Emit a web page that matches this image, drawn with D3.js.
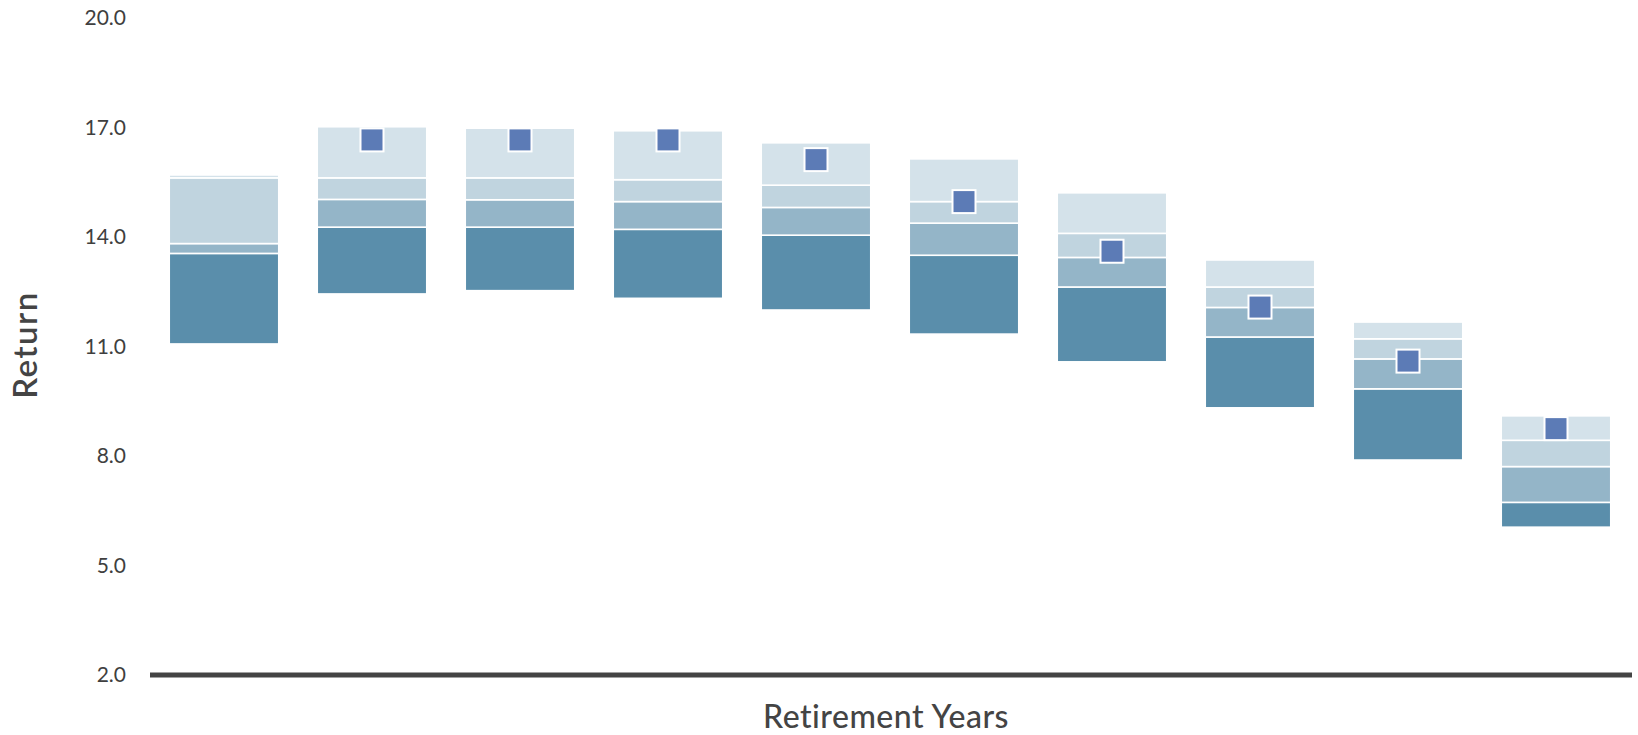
<!DOCTYPE html>
<html>
<head>
<meta charset="utf-8">
<script src="https://cdn.jsdelivr.net/npm/d3@7"></script>
<style>
  html, body { margin: 0; padding: 0; background: #fff; }
  svg { display: block; font-family: Lato, "Noto Sans", sans-serif; }
</style>
</head>
<body>
<svg id="chart" width="1638" height="735"></svg>
<script>
// ---- data ----
const categories = ["Y1","Y2","Y3","Y4","Y5","Y6","Y7","Y8","Y9","Y10"];
const lowValues    = [11.07, 12.44, 12.53, 12.32, 12.00, 11.34, 10.58, 9.32, 7.89, 6.05];
const q1Values     = [13.55, 14.27, 14.27, 14.21, 14.05, 13.50, 12.63, 11.26, 9.84, 6.73];
const medianValues = [13.82, 15.03, 15.02, 14.97, 14.81, 14.38, 13.44, 12.07, 10.66, 7.71];
const q3Values     = [15.62, 15.62, 15.62, 15.57, 15.42, 14.97, 14.10, 12.63, 11.21, 8.43];
const highValues   = [15.70, 17.02, 16.98, 16.91, 16.58, 16.14, 15.21, 13.37, 11.67, 9.10];
const markerValues = [null, 16.66, 16.66, 16.66, 16.12, 14.97, 13.61, 12.08, 10.60, 8.75];
const yTicks = [2, 5, 8, 11, 14, 17, 20];
const segmentColors = ["#5a8eab", "#94b5c8", "#c0d4df", "#d4e2ea"];
const markerColor = "#5c7bb6";

const svg = d3.select("#chart");
const x = d3.scaleBand().domain(categories).range([150, 1630]).paddingInner(0.26).paddingOuter(0.13);
const y = d3.scaleLinear().domain([2, 20]).range([675, 18]);

// segments
const segs = [];
categories.forEach((c, i) => {
  const b = [lowValues[i], q1Values[i], medianValues[i], q3Values[i], highValues[i]];
  for (let k = 0; k < 4; k++) segs.push({c, lo: b[k], hi: b[k + 1], k});
});
svg.append("g").selectAll("rect").data(segs).join("rect")
  .attr("x", d => x(d.c))
  .attr("width", x.bandwidth())
  .attr("y", d => y(d.hi))
  .attr("height", d => Math.max(0, y(d.lo) - y(d.hi)))
  .attr("fill", d => segmentColors[d.k])
  .attr("stroke", "#fff")
  .attr("stroke-width", 1.6);

// markers
const ms = 23;
svg.append("g").selectAll("rect").data(categories.map((c, i) => ({c, v: markerValues[i]})).filter(d => d.v != null))
  .join("rect")
  .attr("x", d => x(d.c) + x.bandwidth() / 2 - ms / 2)
  .attr("y", d => y(d.v) - ms / 2)
  .attr("width", ms).attr("height", ms)
  .attr("fill", markerColor)
  .attr("stroke", "#fff").attr("stroke-width", 2);

// y axis
const yAxis = d3.axisLeft(y).tickValues(yTicks).tickFormat(d3.format(".1f")).tickSize(0).tickPadding(0);
const gy = svg.append("g").attr("transform", "translate(126,0)").call(yAxis);
gy.select(".domain").remove();
gy.selectAll("text").attr("font-size", 21).attr("fill", "#3f3f3f").attr("font-family", "Lato, 'Noto Sans', sans-serif");

// baseline
const xAxis = d3.axisBottom(x).tickSize(0).tickFormat("");
const gx = svg.append("g").attr("transform", `translate(0,${y(2)})`).call(xAxis);
gx.select(".domain").attr("d", "M150,0H1632").attr("stroke", "#444").attr("stroke-width", 5);

// titles
svg.append("text").attr("x", 886).attr("y", 728).attr("text-anchor", "middle")
  .attr("font-size", 32).attr("font-weight", 500).attr("letter-spacing", 0.5).attr("fill", "#444").text("Retirement Years");
svg.append("text").attr("transform", "translate(37,345) rotate(-90)").attr("text-anchor", "middle")
  .attr("font-size", 33).attr("font-weight", 600).attr("letter-spacing", 1.5).attr("fill", "#444").text("Return");
</script>
</body>
</html>
